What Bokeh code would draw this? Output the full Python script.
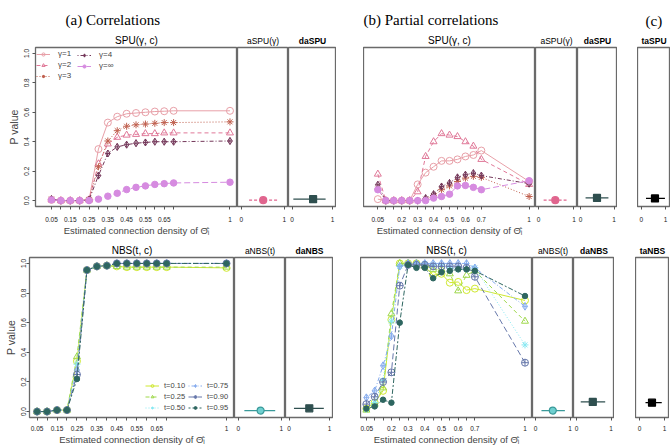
from bokeh.plotting import figure
from bokeh.layouts import row, column
from bokeh.models import Range1d, FixedTicker, Title, Legend, LegendItem, Spacer, NumeralTickFormatter
from bokeh.embed import file_html
from bokeh.resources import INLINE

# ---------------- data ----------------
density = [0.05, 0.10, 0.15, 0.20, 0.25, 0.30, 0.35, 0.40, 0.45, 0.50, 0.55, 0.60, 0.65, 0.70, 1.00]
labels_corr = ["0.05", "", "0.15", "", "0.25", "", "0.35", "", "0.45", "", "0.55", "", "0.65", "", "1"]
labels_pcorr = ["0.05", "", "", "0.2", "", "0.3", "", "0.4", "", "0.5", "", "0.6", "", "0.7", "1"]

gamma_names = ["γ=1", "γ=2", "γ=3", "γ=4", "γ=∞"]
t_names = ["t=0.10", "t=0.25", "t=0.50", "t=0.75", "t=0.90", "t=0.95"]

# (a) correlations, SPU(gamma, c)
spu_corr_g1 = [0.005, 0.0, 0.0, 0.0, 0.005, 0.35, 0.53, 0.57, 0.59, 0.595, 0.60, 0.605, 0.607, 0.61, 0.61]
spu_corr_g2 = [0.005, 0.0, 0.0, 0.0, 0.005, 0.25, 0.385, 0.43, 0.445, 0.45, 0.455, 0.455, 0.46, 0.46, 0.46]
spu_corr_g3 = [0.01, 0.0, 0.0, 0.0, 0.005, 0.23, 0.405, 0.475, 0.505, 0.515, 0.52, 0.525, 0.53, 0.53, 0.535]
spu_corr_g4 = [0.01, 0.0, 0.0, 0.0, 0.005, 0.17, 0.32, 0.365, 0.38, 0.39, 0.395, 0.40, 0.40, 0.40, 0.405]
spu_corr_ginf = [0.005, 0.0, 0.0, 0.0, 0.0, 0.01, 0.03, 0.05, 0.075, 0.09, 0.10, 0.11, 0.115, 0.12, 0.125]

# (b) partial correlations, SPU(gamma, c)
spu_pcorr_g1 = [0.01, 0.0, 0.0, 0.0, 0.0, 0.11, 0.19, 0.23, 0.27, 0.27, 0.28, 0.30, 0.31, 0.34, 0.13]
spu_pcorr_g2 = [0.18, 0.0, 0.0, 0.0, 0.0, 0.06, 0.30, 0.40, 0.455, 0.445, 0.435, 0.40, 0.37, 0.28, 0.11]
spu_pcorr_g3 = [0.078, 0.0, 0.0, 0.0, 0.0, 0.0, 0.01, 0.033, 0.074, 0.10, 0.13, 0.153, 0.165, 0.158, 0.028]
spu_pcorr_g4 = [0.108, 0.0, 0.0, 0.0, 0.0, 0.0, 0.017, 0.044, 0.096, 0.12, 0.158, 0.176, 0.187, 0.17, 0.115]
spu_pcorr_ginf = [0.074, 0.0, 0.0, 0.0, 0.0, 0.0, 0.0, 0.017, 0.028, 0.044, 0.10, 0.103, 0.09, 0.074, 0.135]

# (a) correlations, NBS(t, c)
nbs_corr_t010 = [0.0, 0.0, 0.01, 0.01, 0.34, 0.955, 0.98, 0.985, 0.98, 0.975, 0.975, 0.975, 0.975, 0.975, 0.97]
nbs_corr_t025 = [0.0, 0.0, 0.01, 0.01, 0.37, 0.955, 0.98, 0.985, 0.98, 0.975, 0.975, 0.975, 0.975, 0.975, 0.975]
nbs_corr_t050 = [0.0, 0.0, 0.01, 0.01, 0.32, 0.955, 0.98, 0.985, 1.0, 1.0, 1.0, 1.0, 1.0, 1.0, 1.0]
nbs_corr_t075 = [0.0, 0.0, 0.01, 0.01, 0.28, 0.955, 0.98, 0.985, 1.0, 1.0, 1.0, 1.0, 1.0, 1.0, 1.0]
nbs_corr_t090 = [0.0, 0.0, 0.01, 0.01, 0.25, 0.955, 0.98, 0.985, 1.0, 1.0, 1.0, 1.0, 1.0, 1.0, 1.0]
nbs_corr_t095 = [0.0, 0.0, 0.01, 0.01, 0.22, 0.955, 0.98, 0.985, 1.0, 1.0, 1.0, 1.0, 1.0, 1.0, 1.0]

# (b) partial correlations, NBS(t, c)
nbs_pcorr_t010 = [0.02, 0.06, 0.14, 0.62, 1.0, 1.0, 1.0, 0.98, 0.92, 0.93, 0.87, 0.875, 0.82, 0.83, 0.75]
nbs_pcorr_t025 = [0.01, 0.05, 0.16, 0.66, 1.0, 1.0, 1.0, 0.99, 0.96, 0.96, 0.93, 0.815, 0.92, 0.95, 0.61]
nbs_pcorr_t050 = [0.015, 0.06, 0.21, 0.61, 0.98, 1.0, 1.0, 1.0, 0.99, 0.99, 0.97, 0.96, 0.96, 0.97, 0.45]
nbs_pcorr_t075 = [0.094, 0.14, 0.31, 0.51, 0.98, 1.0, 1.0, 1.0, 1.0, 1.0, 1.0, 1.0, 1.0, 0.97, 0.71]
nbs_pcorr_t090 = [0.05, 0.10, 0.20, 0.265, 0.85, 0.99, 0.99, 0.99, 0.98, 0.98, 0.98, 0.98, 0.97, 0.91, 0.33]
nbs_pcorr_t095 = [0.02, 0.035, 0.08, 0.06, 0.60, 0.99, 0.97, 0.97, 0.90, 0.94, 0.95, 0.96, 0.96, 0.95, 0.78]

# adaptive tests: p value, point and interval on a unit scale
aspu_corr = dict(p=0.003, mid=0.51, lo=0.18, hi=0.88)
daspu_corr = dict(p=0.010, mid=0.52, lo=0.03, hi=0.83)
aspu_pcorr = dict(p=0.003, mid=0.47, lo=0.14, hi=0.79)
daspu_pcorr = dict(p=0.018, mid=0.49, lo=0.15, hi=0.83)
taspu = dict(p=0.015, mid=0.56, lo=0.19, hi=0.97)
anbs_corr = dict(p=0.007, mid=0.52, lo=0.14, hi=0.86)
danbs_corr = dict(p=0.022, mid=0.50, lo=0.12, hi=0.86)
anbs_pcorr = dict(p=0.007, mid=0.50, lo=0.17, hi=0.85)
danbs_pcorr = dict(p=0.065, mid=0.47, lo=0.12, hi=0.83)
tanbs = dict(p=0.060, mid=0.50, lo=0.24, hi=0.89)

# ---------------- styles ----------------
FONT = "Liberation Sans"
gamma_styles = [
    dict(color="#E8A0A8", marker="circle", fill=False, dash="solid", size=7),
    dict(color="#E07898", marker="triangle", fill=False, dash="4 3", size=7),
    dict(color="#C0604F", marker="asterisk", fill=False, dash="1 2", size=7),
    dict(color="#74385A", marker="diamond_cross", fill=False, dash="1 2 4 2", size=7),
    dict(color="#D68BE0", marker="circle", fill=True, dash="6 3", size=6.5),
]
t_styles = [
    dict(color="#CFE830", marker="circle", fill=False, dash="solid", size=7),
    dict(color="#9ED84A", marker="triangle", fill=False, dash="4 3", size=7),
    dict(color="#86E8F2", marker="asterisk", fill=False, dash="1 2", size=7),
    dict(color="#86ACEE", marker="diamond_cross", fill=False, dash="1 2 4 2", size=7.5),
    dict(color="#6677AA", marker="circle_cross", fill=False, dash="6 3", size=7),
    dict(color="#2E6660", marker="circle", fill=True, dash="2 2 5 2", size=5.5),
]

ROW1 = dict(top=47, bottom=32, fh=159, std=7)
ROW2 = dict(top=19, bottom=28, fh=160, std=5)
YR = (-0.04, 1.04)


def panel(fw, rowcfg, xr, left=0, yaxis=False, ystd=2):
    p = figure(frame_width=fw, frame_height=rowcfg["fh"],
               x_range=Range1d(*xr), y_range=Range1d(*YR),
               min_border_left=left, min_border_right=0,
               min_border_top=rowcfg["top"], min_border_bottom=rowcfg["bottom"],
               output_backend="svg", toolbar_location=None, title=None,
               x_axis_location="below", y_axis_location="left" if yaxis else None)
    p.grid.visible = False
    p.outline_line_color = "#6a6a6a"
    p.outline_line_width = 1.3
    p.border_fill_color = "white"
    p.background_fill_color = "white"
    ax = p.xaxis[0]
    ax.axis_line_color = None
    ax.major_tick_out = 3
    ax.major_tick_in = 0
    ax.minor_tick_line_color = None
    ax.major_tick_line_color = "#555555"
    ax.major_label_text_font = FONT
    ax.major_label_text_font_size = "6.5px"
    ax.major_label_text_color = "#222222"
    ax.major_label_standoff = rowcfg["std"]
    if yaxis:
        ya = p.yaxis[0]
        ya.ticker = FixedTicker(ticks=[0, 0.2, 0.4, 0.6, 0.8, 1.0])
        ya.formatter = NumeralTickFormatter(format="0.0")
        ya.axis_line_color = None
        ya.major_tick_out = 3
        ya.major_tick_in = 0
        ya.minor_tick_line_color = None
        ya.major_tick_line_color = "#555555"
        ya.major_label_orientation = "vertical"
        ya.major_label_text_font = FONT
        ya.major_label_text_font_size = "6.5px"
        ya.major_label_text_color = "#222222"
        ya.major_label_standoff = ystd
        ya.axis_label = "P value"
        ya.axis_label_text_font = FONT
        ya.axis_label_text_font_style = "normal"
        ya.axis_label_text_font_size = "10.5px"
        ya.axis_label_standoff = 2
    return p


def add_title(p, text, size="9px", bold=False, standoff=4, align="center", offset=0, font=FONT):
    p.add_layout(Title(text=text, align=align, offset=offset, text_font=font,
                       text_font_size=size, text_font_style="bold" if bold else "normal",
                       standoff=standoff, text_color="black"), "above")


def density_axis(p, labels):
    ax = p.xaxis[0]
    ax.ticker = FixedTicker(ticks=density)
    ax.major_label_overrides = {d: lab for d, lab in zip(density, labels)}
    ax.axis_label = "Estimated connection density of \u0398\u0302\u1d62"
    ax.axis_label_text_font = FONT
    ax.axis_label_text_font_style = "normal"
    ax.axis_label_text_font_size = "9.5px"
    ax.axis_label_standoff = 0


def unit_axis(p):
    p.xaxis[0].ticker = FixedTicker(ticks=[0, 1])


def draw_series(p, values, st):
    ln = p.line(density, values, line_color=st["color"], line_width=1, line_dash=st["dash"])
    sc = p.scatter(density, values, marker=st["marker"], size=st["size"], line_color=st["color"],
                   fill_color=st["color"] if st["fill"] else None, line_width=1)
    return [ln, sc]


def summary(p, d, color, marker, dash="solid", fill=None, size=7):
    p.segment(x0=[d["lo"]], y0=[d["p"]], x1=[d["hi"]], y1=[d["p"]],
              line_color=color, line_width=1.3, line_dash=dash)
    p.scatter([d["mid"]], [d["p"]], marker=marker, size=size, line_color=color,
              fill_color=fill if fill else color, line_width=1.2)


SMALL_X = (-0.09, 1.1)
TINY_X = (-0.16, 1.2)

# ---------------- row 1 : SPU ----------------
a1 = panel(202, ROW1, (-0.035, 1.04), left=35, yaxis=True, ystd=3)
density_axis(a1, labels_corr)
add_title(a1, "SPU(γ, c)", size="10px")
add_title(a1, "(a) Correlations", size="15px", standoff=5, align="left", offset=30, font="Liberation Serif")
items = []
for vals, st, nm in zip([spu_corr_g1, spu_corr_g2, spu_corr_g3, spu_corr_g4, spu_corr_ginf],
                        gamma_styles, gamma_names):
    items.append(LegendItem(label=nm, renderers=draw_series(a1, vals, st)))
for its, loc in [(items[:3], (1, 126)), (items[3:], (42, 136))]:
    lg = Legend(items=its, location=loc, glyph_width=14, glyph_height=8, label_height=8,
                label_standoff=8, spacing=2, padding=0, margin=0,
                label_text_font=FONT, label_text_font_size="8px",
                background_fill_alpha=0, border_line_alpha=0)
    a1.add_layout(lg, "center")

a2 = panel(51, ROW1, SMALL_X)
unit_axis(a2)
add_title(a2, "aSPU(γ)", size="8.5px")
summary(a2, aspu_corr, "#E0658E", "circle", dash="3 2")

a3 = panel(48, ROW1, SMALL_X)
unit_axis(a3)
add_title(a3, "daSPU", size="8.5px", bold=True)
summary(a3, daspu_corr, "#2F4F4F", "square")

b1 = panel(172, ROW1, (-0.04, 1.04))
density_axis(b1, labels_pcorr)
add_title(b1, "SPU(γ, c)", size="10px")
add_title(b1, "(b) Partial correlations", size="15px", standoff=5, align="left", offset=0,
          font="Liberation Serif")
for vals, st in zip([spu_pcorr_g1, spu_pcorr_g2, spu_pcorr_g3, spu_pcorr_g4, spu_pcorr_ginf], gamma_styles):
    draw_series(b1, vals, st)

b2 = panel(42, ROW1, SMALL_X)
unit_axis(b2)
add_title(b2, "aSPU(γ)", size="8.5px")
summary(b2, aspu_pcorr, "#E0658E", "circle", dash="3 2")

b3 = panel(40, ROW1, SMALL_X)
unit_axis(b3)
add_title(b3, "daSPU", size="8.5px", bold=True)
summary(b3, daspu_pcorr, "#2F4F4F", "square")

c1 = panel(33, ROW1, TINY_X)
unit_axis(c1)
add_title(c1, "taSPU", size="8.5px", bold=True)
add_title(c1, "(c)", size="15px", standoff=5, align="left", offset=8, font="Liberation Serif")
summary(c1, taspu, "black", "square")

# ---------------- row 2 : NBS ----------------
d1 = panel(205, ROW2, (0.012, 1.04), left=29, yaxis=True, ystd=0)
density_axis(d1, labels_corr)
add_title(d1, "NBS(t, c)", size="10px")
nbs_corr = [nbs_corr_t010, nbs_corr_t025, nbs_corr_t050, nbs_corr_t075, nbs_corr_t090, nbs_corr_t095]
rends = {}
for i in range(6):
    rends[i] = draw_series(d1, nbs_corr[i], t_styles[i])
items = [LegendItem(label=t_names[i], renderers=rends[i]) for i in range(6)]
for its, loc in [(items[:3], (116, 5)), (items[3:], (159, 5))]:
    lg = Legend(items=its, location=loc, glyph_width=14, glyph_height=7, label_height=7,
                label_standoff=5, spacing=2, padding=0, margin=0,
                label_text_font=FONT, label_text_font_size="7.5px",
                background_fill_alpha=0, border_line_alpha=0)
    d1.add_layout(lg, "center")

d2 = panel(51, ROW2, SMALL_X)
unit_axis(d2)
add_title(d2, "aNBS(t)", size="8.5px")
summary(d2, anbs_corr, "#3A9A9A", "circle", fill="#6FD0D0")

d3 = panel(48, ROW2, SMALL_X)
unit_axis(d3)
add_title(d3, "daNBS", size="8.5px", bold=True)
summary(d3, danbs_corr, "#2F4F4F", "square")

e1 = panel(172, ROW2, (0.015, 1.045))
density_axis(e1, labels_pcorr)
add_title(e1, "NBS(t, c)", size="10px")
nbs_pcorr = [nbs_pcorr_t010, nbs_pcorr_t025, nbs_pcorr_t050, nbs_pcorr_t075, nbs_pcorr_t090, nbs_pcorr_t095]
for i in range(6):
    draw_series(e1, nbs_pcorr[i], t_styles[i])

e2 = panel(41, ROW2, SMALL_X)
unit_axis(e2)
add_title(e2, "aNBS(t)", size="8.5px")
summary(e2, anbs_pcorr, "#3A9A9A", "circle", fill="#6FD0D0")

e3 = panel(41, ROW2, SMALL_X)
unit_axis(e3)
add_title(e3, "daNBS", size="8.5px", bold=True)
summary(e3, danbs_pcorr, "#2F4F4F", "square")

f1 = panel(34, ROW2, TINY_X)
unit_axis(f1)
add_title(f1, "taNBS", size="8.5px", bold=True)
summary(f1, tanbs, "black", "square")

r1 = row(a1, a2, a3, Spacer(width=27, height=10), b1, b2, b3, Spacer(width=20, height=10), c1)
r2 = row(d1, d2, d3, Spacer(width=27, height=10), e1, e2, e3, Spacer(width=21, height=10), f1)
layout = column(r1, r2)

open("out.html", "w").write(file_html(layout, INLINE))
